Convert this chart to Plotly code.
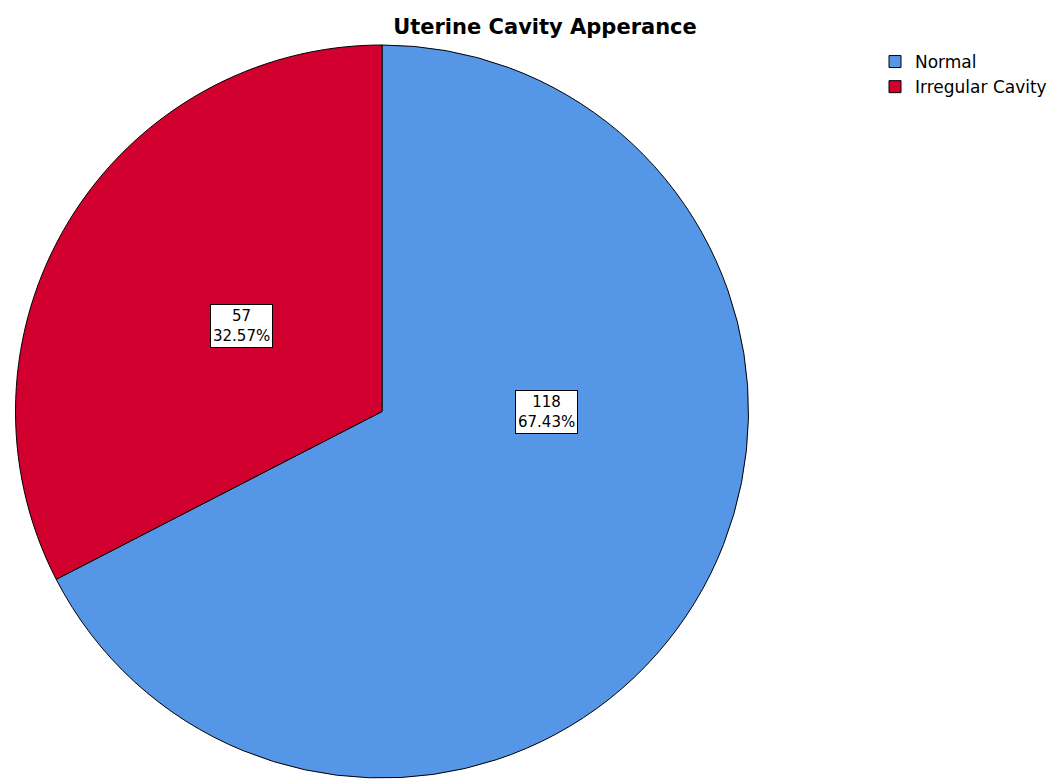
import math
import plotly.graph_objects as go

# data
categories = ['Normal', 'Irregular Cavity']
counts = [118, 57]
colors = ['#5596E6', '#D2002E']

W, H = 1052, 780
FONT = 'DejaVu Sans, Arial'
total = sum(counts)
pcts = [c / total * 100 for c in counts]

# pie domain (pixels -> paper)
dom_x = [12 / W, 752 / W]
dom_y = [2 / H, 1 - 45 / H]

fig = go.Figure(go.Pie(
    labels=categories, values=counts,
    marker=dict(colors=colors, line=dict(color='black', width=1)),
    sort=False, direction='clockwise', rotation=0,
    textinfo='none', hoverinfo='label+value+percent',
    domain=dict(x=dom_x, y=dom_y),
))

# value labels in white boxes; angle = middle of the slice part lying in its main half
cx = (dom_x[0] + dom_x[1]) / 2
cy = (dom_y[0] + dom_y[1]) / 2
rad = min((dom_x[1] - dom_x[0]) * W, (dom_y[1] - dom_y[0]) * H) / 2
start = 0
for c, p in zip(counts, pcts):
    a0 = start
    a1 = start + c / total * 2 * math.pi
    start = a1
    # clip to right (0..pi) or left (pi..2pi) half, whichever holds more of the slice
    right = max(0, min(a1, math.pi) - a0)
    left = max(0, a1 - max(a0, math.pi))
    if right >= left:
        lo, hi = a0, min(a1, math.pi)
    else:
        lo, hi = max(a0, math.pi), a1
    mid = (lo + hi) / 2
    r = rad * 0.45
    fig.add_annotation(
        x=cx + r * math.sin(mid) / W, y=cy + r * math.cos(mid) / H,
        xref='paper', yref='paper', xanchor='center', yanchor='middle',
        showarrow=False,
        text=f'{c}<br>{p:.2f}%',
        font=dict(family=FONT, size=15, color='black'),
        bgcolor='white', bordercolor='black', borderwidth=1, borderpad=2,
        align='center',
    )

fig.update_layout(
    width=W, height=H,
    paper_bgcolor='white', plot_bgcolor='white',
    margin=dict(l=0, r=0, t=0, b=0),
    title=dict(text='<b>Uterine Cavity Apperance</b>', x=545 / W, xanchor='center',
               y=1 - 27 / H, yanchor='middle',
               font=dict(family=FONT, size=21, color='black')),
    legend=dict(x=875 / W, y=1 - 44 / H, xanchor='left', yanchor='top',
                font=dict(family=FONT, size=17, color='black'),
                tracegroupgap=0, itemwidth=30, bgcolor='rgba(0,0,0,0)'),
    showlegend=True,
)

# drop the default page margin so the chart sits at the window's corner
fig.write_html('out.html', config={'displayModeBar': False},
               post_script="document.body.style.margin='0';")
